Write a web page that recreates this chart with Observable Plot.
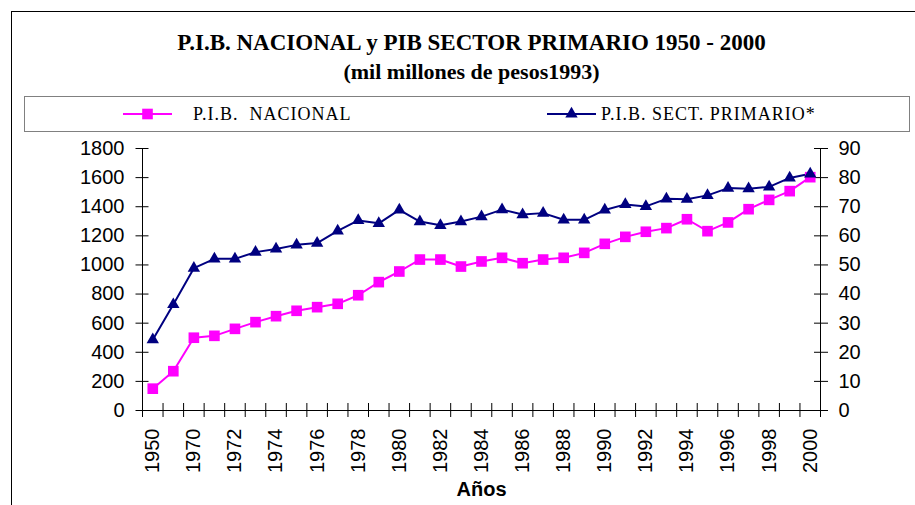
<!DOCTYPE html>
<html>
<head>
<meta charset="utf-8">
<script src="https://cdn.jsdelivr.net/npm/d3@7"></script>
<script src="https://cdn.jsdelivr.net/npm/@observablehq/plot@0.6"></script>
<style>
  html, body { margin: 0; padding: 0; background: #fff; }
  #wrap { position: relative; width: 915px; height: 505px; overflow: hidden; }
  #frame { position: absolute; left: 11px; top: 11px; width: 920px; height: 520px;
           border-top: 1px solid #000; border-left: 1px solid #000; }
  #header { position: relative; height: 131px; }
  .title { position: absolute; left: 0; width: 943px; text-align: center;
           font-family: "Liberation Serif", "Times New Roman", serif; font-weight: bold; color: #000; white-space: pre; }
  #legend { position: absolute; left: 24px; top: 96px; width: 884px; height: 34px;
            border: 1px solid #808080; box-sizing: content-box; }
  .leg { position: absolute; top: 0; height: 34px; font-family: "Liberation Serif", "Times New Roman", serif;
         font-size: 18px; letter-spacing: 1px; color: #000; white-space: pre; line-height: 34px; }
  #chart { position: relative; }
</style>
</head>
<body>
<div id="wrap">
  <div id="frame"></div>
  <div id="header">
    <div class="title" id="t1" style="top:31px; font-size:23px; line-height:23px;">P.I.B. NACIONAL y PIB SECTOR PRIMARIO 1950 - 2000</div>
    <div class="title" id="t2" style="top:61px; font-size:22px; line-height:22px;">(mil millones de pesos1993)</div>
    <div id="legend"></div>
  </div>
  <div id="chart"></div>
</div>
<script>
// ---- data ----
const years = ["1950","1960","1970","1971","1972","1973","1974","1975","1976","1977","1978","1979","1980",
  "1981","1982","1983","1984","1985","1986","1987","1988","1989","1990","1991","1992","1993","1994",
  "1995","1996","1997","1998","1999","2000"];
const pibNacional = [150, 270, 500, 513, 561, 607, 648, 685, 710, 733, 792, 882, 955, 1037, 1037, 989,
  1024, 1049, 1012, 1037, 1049, 1083, 1145, 1193, 1228, 1253, 1314, 1232, 1292, 1383, 1447, 1507, 1603];
const pibPrimario = [24.3, 36.4, 48.9, 52.1, 52.1, 54.4, 55.5, 56.9, 57.5, 61.7, 65.3, 64.3, 68.9, 64.9,
  63.6, 64.9, 66.6, 69.0, 67.3, 67.8, 65.5, 65.5, 68.9, 70.8, 70.1, 72.7, 72.6, 73.9, 76.4, 76.2, 76.8, 79.9, 81.3];
const leftTicks = [0, 200, 400, 600, 800, 1000, 1200, 1400, 1600, 1800];
const rightTicks = [0, 10, 20, 30, 40, 50, 60, 70, 80, 90];
const seriesNames = ["P.I.B.  NACIONAL", "P.I.B. SECT. PRIMARIO*"];
const colors = ["#FF00FF", "#000080"];
const xTitle = "Años";

// ---- derived tables ----
const ratio = leftTicks[leftTicks.length - 1] / rightTicks[rightTicks.length - 1]; // 20
const nat = years.map((y, i) => ({i: i + 0.5, year: y, v: pibNacional[i]}));
const pri = years.map((y, i) => ({i: i + 0.5, year: y, v: pibPrimario[i] * ratio}));
const bounds = d3.range(0, years.length + 1);
const labelPos = years.map((y, i) => i).filter(i => i % 2 === 0).map(i => i + 0.5);

const font = "Liberation Sans, Arial, sans-serif";

const chart = Plot.plot({
  width: 915,
  height: 374,
  marginTop: 17,
  marginBottom: 95,
  marginLeft: 142,
  marginRight: 95,
  style: {fontFamily: font, fontSize: "20px", color: "#000", background: "transparent", overflow: "visible"},
  x: {type: "linear", domain: [0, years.length], axis: null},
  y: {domain: [0, 1800], axis: null},
  marks: [
    // axis lines
    Plot.ruleX([0, years.length], {stroke: "#000", strokeWidth: 1}),
    Plot.ruleY([0], {stroke: "#000", strokeWidth: 1}),
    // crossing tick marks
    Plot.axisX({ticks: bounds, tickSize: 14, dy: -7, tickFormat: () => "", label: null, stroke: "#000"}),
    Plot.axisY({ticks: leftTicks, tickSize: 13, dx: 6.5, tickFormat: () => "", label: null, stroke: "#000"}),
    Plot.axisY({anchor: "right", ticks: leftTicks, tickSize: 14, dx: -7, tickFormat: () => "", label: null, stroke: "#000"}),
    // tick labels
    Plot.axisY({ticks: leftTicks, tickSize: 0, tickPadding: 18, fontSize: 20, label: null,
      tickFormat: d => String(d), fill: "#000"}),
    Plot.axisY({anchor: "right", ticks: leftTicks, tickSize: 0, tickPadding: 18, fontSize: 20, label: null,
      tickFormat: d => String(d / ratio), fill: "#000"}),
    Plot.axisX({ticks: labelPos, tickSize: 0, tickPadding: 18, tickRotate: -90, fontSize: 20, label: null,
      tickFormat: d => years[Math.round(d - 0.5)], fill: "#000"}),
    Plot.text([xTitle], {frameAnchor: "bottom", dy: 85, text: d => d, fontSize: 20, fontWeight: "bold",
      lineAnchor: "bottom", fill: "#000"}),
    // series
    Plot.line(nat, {x: "i", y: "v", stroke: colors[0], strokeWidth: 2}),
    Plot.line(pri, {x: "i", y: "v", stroke: colors[1], strokeWidth: 2}),
    Plot.dot(nat, {x: "i", y: "v", symbol: "square", r: 6, fill: colors[0], stroke: "none"}),
    Plot.dot(pri, {x: "i", y: "v", symbol: "triangle", r: 4.6, fill: colors[1], stroke: "none"})
  ]
});
document.getElementById("chart").appendChild(chart);

// ---- legend (HTML + small inline svg symbols) ----
const legend = document.getElementById("legend");
const legItems = [
  {x: 98, w: 49, name: seriesNames[0], tx: 168, sym: "square"},
  {x: 522, w: 49, name: seriesNames[1], tx: 576, sym: "triangle"}
];
legItems.forEach((it, k) => {
  const svg = d3.create("svg").attr("width", it.w).attr("height", 34)
    .style("position", "absolute").style("left", it.x + "px").style("top", "0px");
  svg.append("line").attr("x1", 0).attr("x2", it.w).attr("y1", 17).attr("y2", 17)
    .attr("stroke", colors[k]).attr("stroke-width", 2);
  const sym = it.sym === "square" ? d3.symbolSquare : d3.symbolTriangle;
  const size = it.sym === "square" ? Math.PI * 36 : Math.PI * 4.6 * 4.6;
  svg.append("path").attr("d", d3.symbol(sym, size)()).attr("transform", `translate(${it.w / 2},17)`)
    .attr("fill", colors[k]);
  legend.appendChild(svg.node());
  const t = document.createElement("div");
  t.className = "leg";
  t.style.left = it.tx + "px";
  t.textContent = it.name;
  legend.appendChild(t);
});
</script>
</body>
</html>
